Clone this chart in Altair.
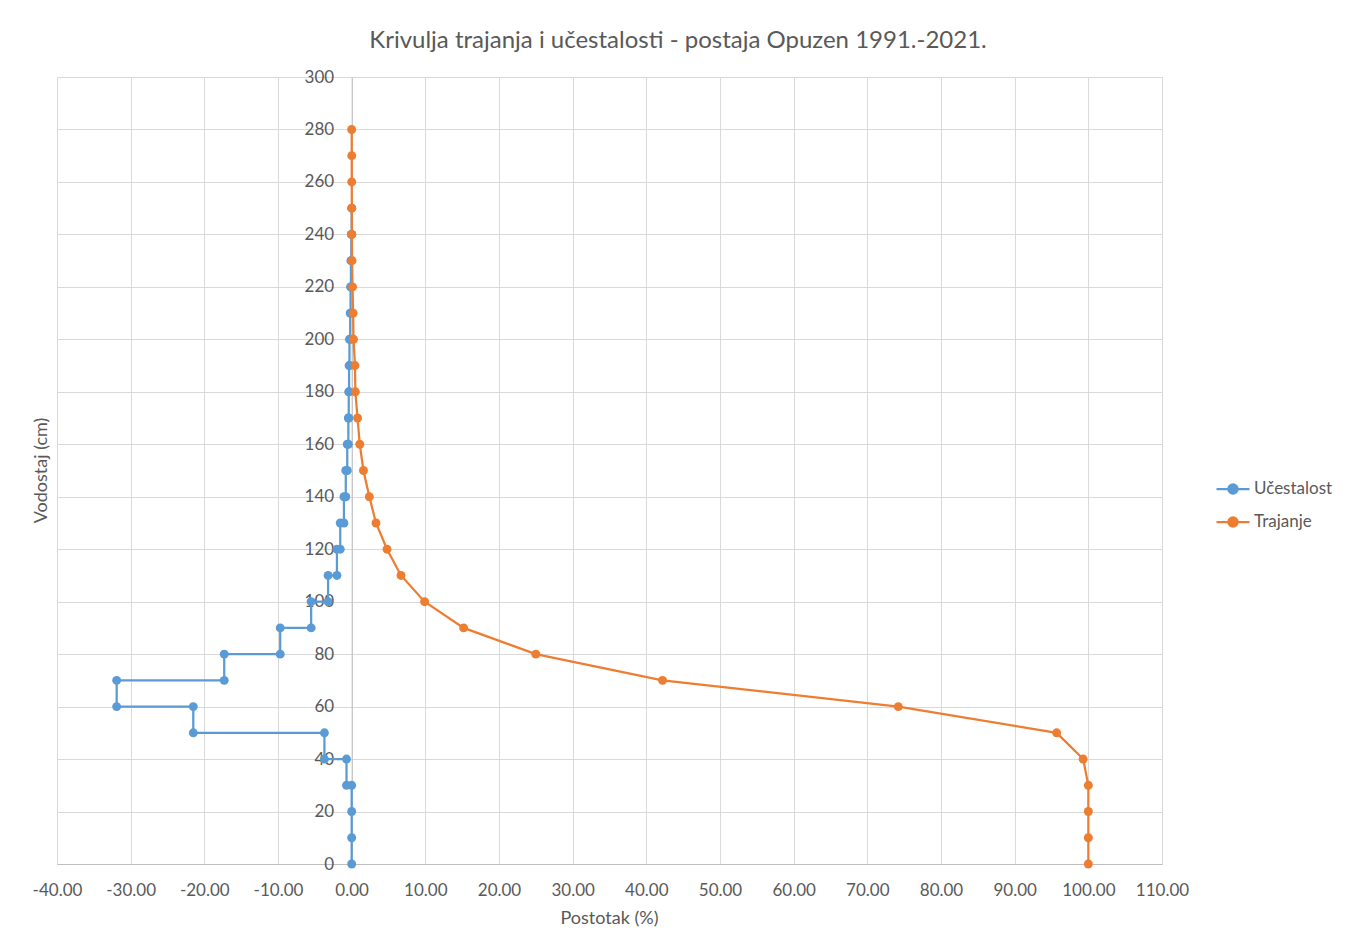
import altair as alt
import pandas as pd

title_text = "Krivulja trajanja i učestalosti - postaja Opuzen 1991.-2021."
x_title = "Postotak (%)"
y_title = "Vodostaj (cm)"
series_names = ["Učestalost", "Trajanje"]
colors = ["#5B9BD5", "#ED7D31"]

# Učestalost (step series, negative percentages)
u_y = [0, 10, 20, 30, 30, 40, 40, 50, 50, 60, 60, 70, 70, 80, 80, 90, 90, 100, 100,
       110, 110, 120, 120, 130, 130, 140, 140, 150, 150, 160, 160, 170, 170, 180, 180,
       190, 190, 200, 200, 210, 210, 220, 220, 230, 230, 240, 240, 250]
u_x = [0, 0, 0, 0, -0.7, -0.7, -3.7, -3.7, -21.5, -21.5, -31.9, -31.9, -17.3, -17.3,
       -9.7, -9.7, -5.5, -5.5, -3.2, -3.2, -2.0, -2.0, -1.55, -1.55, -1.05, -1.05,
       -0.8, -0.8, -0.6, -0.6, -0.45, -0.45, -0.4, -0.4, -0.35, -0.35, -0.3, -0.3,
       -0.2, -0.2, -0.15, -0.15, -0.1, -0.1, -0.05, -0.05, 0, 0]

# Trajanje (duration curve)
t_y = [0, 10, 20, 30, 40, 50, 60, 70, 80, 90, 100, 110, 120, 130, 140, 150, 160, 170,
       180, 190, 200, 210, 220, 230, 240, 250, 260, 270, 280]
t_x = [100, 100, 100, 100, 99.3, 95.7, 74.2, 42.2, 25.0, 15.2, 9.9, 6.7, 4.8, 3.3, 2.4,
       1.6, 1.1, 0.8, 0.5, 0.45, 0.25, 0.2, 0.12, 0.05, 0.03, 0.02, 0.01, 0.01, 0.0]

x_ticks = list(range(-40, 111, 10))
y_ticks = list(range(0, 301, 20))

W, H = 1105, 787
zero_px = W * 40 / 150
FONT = "Lato"
TXT = "#595959"

df_u = pd.DataFrame({"x": u_x, "y": u_y, "serija": series_names[0], "i": list(range(len(u_x)))})
df_t = pd.DataFrame({"x": t_x, "y": t_y, "serija": series_names[1], "i": list(range(len(t_x)))})

legend_path = ("M-1,0L1,0M-0.28,0A0.28,0.28 0 1,1 0.28,0"
               "A0.28,0.28 0 1,1 -0.28,0Z")

color = alt.Color(
    "serija:N",
    scale=alt.Scale(domain=series_names, range=colors),
    legend=alt.Legend(
        title=None, orient="none", legendX=1158, legendY=394,
        symbolType=legend_path, symbolSize=1089, symbolStrokeWidth=2.25,
        labelFont=FONT, labelFontSize=17, labelColor=TXT, rowPadding=5, labelOffset=3,
    ),
)

xenc = alt.X(
    "x:Q",
    scale=alt.Scale(domain=[-40, 110], nice=False, zero=False),
    axis=alt.Axis(values=x_ticks, title=None, ticks=False, labelPadding=18,
                  labelExpr="(datum.value < 0 ? '-' : '') + format(abs(datum.value), '.2f')",
                  labelOverlap=False, labelFlush=False,
                  domainColor="#bfbfbf", gridColor="#d9d9d9", labelColor=TXT,
                  labelFontSize=17, labelFont=FONT),
)
yenc = alt.Y(
    "y:Q",
    scale=alt.Scale(domain=[0, 300], nice=False),
    axis=alt.Axis(values=y_ticks, title=None, ticks=False, offset=-zero_px, labelPadding=18,
                  labelOverlap=False, labelFlush=False,
                  domainColor="#bfbfbf", gridColor="#d9d9d9", labelColor=TXT,
                  labelFontSize=17, labelFont=FONT),
)

def series(df):
    return alt.Chart(df).mark_line(
        strokeWidth=2.25,
        point=alt.OverlayMarkDef(filled=True, size=80, opacity=1),
    ).encode(x=xenc, y=yenc, color=color, order="i:Q")

def label(text, x, y, size, angle=0):
    return alt.Chart(pd.DataFrame({"t": [text]})).mark_text(
        font=FONT, fontSize=size, color=TXT, align="center", baseline="middle", angle=angle
    ).encode(x=alt.value(x), y=alt.value(y), text="t:N")

chart = alt.layer(
    series(df_u),
    series(df_t),
    label(title_text, 621, -36, 24),
    label(x_title, W / 2, 842, 18),
    label(y_title, -15, H / 2, 18, angle=270),
).properties(
    width=W, height=H,
    padding={"left": 49, "top": 69, "right": 184, "bottom": 68},
    autosize=alt.AutoSizeParams(type="none"),
).configure_view(stroke=None)

chart.save("out.html", embed_options={"renderer": "svg", "actions": False})
